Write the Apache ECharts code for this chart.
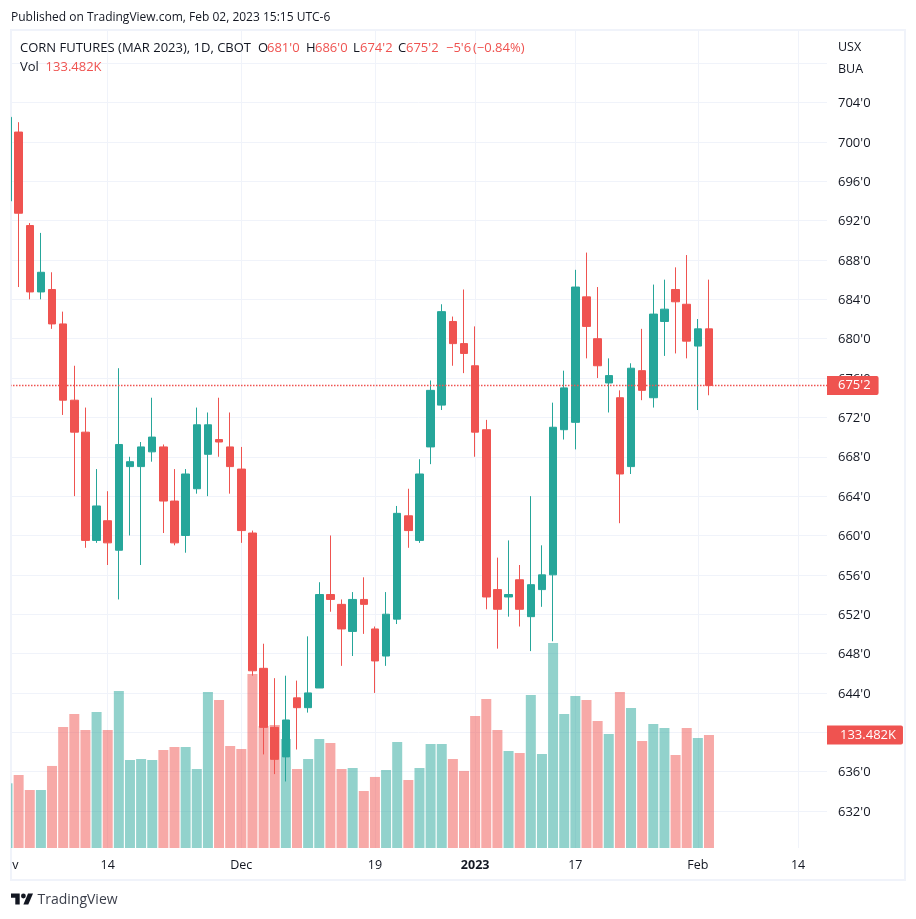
<!DOCTYPE html>
<html><head><meta charset="utf-8">
<style>html,body{margin:0;padding:0;background:#fff}#c{width:916px;height:919px}</style>
<script src="https://cdn.jsdelivr.net/npm/echarts@6/dist/echarts.min.js"></script>
</head><body><div id="c"></div>
<script>
const sessions = ['2022-11-01','2022-11-02','2022-11-03','2022-11-04','2022-11-07','2022-11-08','2022-11-09','2022-11-10','2022-11-11','2022-11-14','2022-11-15','2022-11-16','2022-11-17','2022-11-18','2022-11-21','2022-11-22','2022-11-23','2022-11-25','2022-11-28','2022-11-29','2022-11-30',
'2022-12-01','2022-12-02','2022-12-05','2022-12-06','2022-12-07','2022-12-08','2022-12-09','2022-12-12','2022-12-13','2022-12-14','2022-12-15','2022-12-16','2022-12-19','2022-12-20','2022-12-21','2022-12-22','2022-12-23','2022-12-27','2022-12-28','2022-12-29','2022-12-30',
'2023-01-03','2023-01-04','2023-01-05','2023-01-06','2023-01-09','2023-01-10','2023-01-11','2023-01-12','2023-01-13','2023-01-17','2023-01-18','2023-01-19','2023-01-20','2023-01-23','2023-01-24','2023-01-25','2023-01-26','2023-01-27','2023-01-30','2023-01-31',
'2023-02-01','2023-02-02','2023-02-03','2023-02-06','2023-02-07','2023-02-08','2023-02-09','2023-02-10','2023-02-13','2023-02-14'];
const opens = [694,701,691.5,684.75,685,681.5,673.75,670.5,659.5,661.5,
658.5,667,667,668.5,669,663.5,660,664.75,668.25,669.75,
669,666.75,660.25,646.5,640.5,637.5,643.5,642.5,644.5,654,
653,650.25,653.5,650.5,647.75,651.5,662,659.5,669,673.25,
681.75,679.5,677.25,670.75,654.5,653.75,655.5,651.75,654.5,656,
670.75,671.5,684.25,680,675.5,674,667,676.75,674,681.75,
685,683.5,679.25,681];
const closes = [702.5,692.75,684.75,686.75,681.5,673.75,670.5,659.5,663,659.25,
669.25,667.5,669,670,663.5,659.25,666.25,671.25,671.25,669.5,
667,660.5,646.25,640.5,637.25,641.25,642.5,644,654,653.5,
650.5,653.5,653,647.25,652,662.25,660.5,666.25,674.75,682.75,
679.5,678.5,670.5,653.75,652.5,654,652.5,655,656,671,
675,685.25,681.25,677.25,676.25,666.25,677,674.75,682.5,683,
683.75,679.75,681,675.25];
const lows = [694,685.25,684,684,681,672.25,664,658.75,659.25,657,
653.5,660,657,667.5,660.25,659,658.25,664.25,664,668,
664.25,659.25,645.75,637.75,635.75,635,638.25,642,644.5,652.25,
646.75,647.75,650,644,646.75,651,658.75,659.25,667.25,672.75,
677.25,676.5,668,652.5,648.5,651.75,650.75,648.25,652.75,649.25,
669.75,668.75,678,676,672.5,661.25,666.25,673.75,673,678.25,
678.5,678,672.75,674.25];
const highs = [702.5,702,691.75,690.75,686.75,682.75,677.25,673,666.75,664.5,
677,668,669.5,674,669.25,666.75,666.75,673,672.5,674,
672.5,669,660.5,649,645.5,645.75,645.25,649.75,655.25,660,
653.5,654.25,655.75,650.75,654.25,663,664.75,667.75,675.75,683.5,
682.25,685,681.25,671.75,657.75,659.5,657,664,659,673.5,
676.75,687,688.75,685.25,678,674.75,677.5,681,685.5,686,
687.25,688.5,682,686];
const volumes = [76.4,86.2,68.5,68.5,96.9,142.9,158.3,139.4,160.6,139.4,
185.4,103.9,105.1,103.9,115.8,119.3,119.3,93.3,184.3,174.8,
120.5,116.9,205.5,144.1,145.3,128.8,93.3,105.1,128.8,124.0,
93.3,94.5,67.3,83.9,92.1,125.2,80.3,94.5,122.8,122.8,
105.1,91,155.9,176,139.4,114.6,112.2,180.7,111,242.1,
158.3,179.5,174.8,150,134.7,184.3,165.4,126.4,146.5,141.7,
109.9,141.7,129.9,133.482];
const timeTickDates = ['2022-11-14','2022-12-01','2022-12-19','2023-01-03','2023-01-17','2023-02-01','2023-02-14'];
const timeTickLabels = ['14','Dec','19','2023','17','Feb','14'];
const priceTicks = [632,636,640,644,648,652,656,660,664,668,672,676,680,684,688,692,696,700,704];
const priceGridOnly = [708];
const lastPrice = 675.25, lastPriceLabel = "675'2", lastVolume = 133.482, lastVolumeLabel = '133.482K';
const legendParts = [["CORN FUTURES (MAR 2023), 1D, CBOT",20,0],["O",258,0],["681'0",267,1],["H",306,0],["686'0",315,1],["L",353,0],["674'2",360,1],["C",398,0],["675'2",406,1],["−5'6",446,1],["(−0.84%)",473,1]];

const UP='#26a69a', DOWN='#ef5350', GRID='#f0f3fa', INK='#131722';
const FONT='"Open Sans", sans-serif';
const X_MIN=0.225, X_MAX=73.6;
const xs = opens.map((_,i)=>i);
const tickIdx = timeTickDates.map(d=>sessions.indexOf(d));
const labelAt = {}; tickIdx.forEach((x,i)=>labelAt[x]=timeTickLabels[i]);
const clippedNov = 0.7; labelAt[clippedNov]='v';

const option={
  animation:false,
  backgroundColor:'#fff',
  grid:[
    {left:10,top:31,width:817,height:817},
    {left:10,top:594,width:817,height:254}
  ],
  xAxis:[
    {type:'value',gridIndex:0,min:X_MIN,max:X_MAX,
     axisLine:{show:false},
     axisTick:{show:false,customValues:tickIdx},
     splitLine:{show:true,lineStyle:{color:GRID,width:1}},
     axisLabel:{show:true,customValues:[clippedNov].concat(tickIdx),margin:11,fontFamily:FONT,fontSize:12.5,color:INK,
       formatter:v=>labelAt[v]==='2023'?'{b|2023}':labelAt[v],
       rich:{b:{fontWeight:'bold',fontFamily:FONT,fontSize:12.5,color:INK}}}},
    {type:'value',gridIndex:1,min:X_MIN,max:X_MAX,show:false,splitLine:{show:false}}
  ],
  yAxis:[
    {type:'value',gridIndex:0,position:'right',min:628.24,max:711.27,
     axisLine:{show:false},
     axisTick:{show:false,customValues:priceTicks.concat(priceGridOnly)},
     splitLine:{show:true,lineStyle:{color:GRID,width:1}},
     axisLabel:{customValues:priceTicks,margin:11,fontFamily:FONT,fontSize:13,color:INK,
       formatter:v=>'{p|'+Math.floor(v)+"'0}",
       rich:{p:{fontFamily:FONT,fontSize:13,color:INK,padding:[2,0,0,0]}}}},
    {type:'value',gridIndex:1,min:0,max:300,show:false,splitLine:{show:false}}
  ],
  series:[
    {type:'bar',name:'Vol',xAxisIndex:1,yAxisIndex:1,barWidth:10,z:1,clip:true,
     data:xs.map(i=>({value:[i,volumes[i]],itemStyle:{color:closes[i]>=opens[i]?'rgba(38,166,154,.5)':'rgba(239,83,80,.5)'}})),
     encode:{x:0,y:1},
     markLine:{silent:true,symbol:'none',z:5,
       lineStyle:{color:'rgba(0,0,0,0)',width:1},
       label:{show:true,position:'end',distance:0,formatter:lastVolumeLabel,color:'#fff',backgroundColor:DOWN,
              fontFamily:FONT,fontSize:13,padding:[3,7,3,13],borderRadius:[0,2,2,0]},
       data:[{yAxis:lastVolume}]}},
    {type:'candlestick',name:'CORN',xAxisIndex:0,yAxisIndex:0,barWidth:8,z:3,
     data:xs.map(i=>[i,opens[i],closes[i],lows[i],highs[i]]),
     encode:{x:0,y:[1,2,3,4]},
     itemStyle:{color:UP,color0:DOWN,borderColor:UP,borderColor0:DOWN,borderWidth:1},
     markLine:{silent:true,symbol:'none',z:5,
       lineStyle:{color:DOWN,type:[1.5,1.5],width:1.4,opacity:1},
       label:{show:true,position:'end',distance:0,formatter:lastPriceLabel,color:'#fff',backgroundColor:DOWN,
              fontFamily:FONT,fontSize:13,padding:[3,8,3,11],borderRadius:[0,2,2,0]},
       data:[{yAxis:lastPrice}]}}
  ],
  graphic:[
    {type:'rect',z:0,silent:true,shape:{x:11,y:30,width:894,height:850},style:{fill:'none',stroke:GRID,lineWidth:2}},
    {type:'rect',z:10,silent:true,shape:{x:0,y:31,width:10,height:818},style:{fill:'#fff'}},
    {type:'rect',z:10,silent:true,shape:{x:10,y:31,width:1,height:818},style:{fill:GRID}},
    {type:'text',x:11,y:18,z:20,silent:true,style:{text:'Published on TradingView.com, Feb 02, 2023 15:15 UTC-6',fill:INK,font:'12px '+FONT,textVerticalAlign:'middle'}},
    ...legendParts.map(p=>({type:'text',x:p[1],y:48,z:20,silent:true,style:{text:p[0],fill:p[2]?DOWN:INK,font:'13px '+FONT,textVerticalAlign:'middle'}})),
    {type:'text',x:20,y:67,z:20,silent:true,style:{
      text:'{k|Vol  }{r|133.482K}',textVerticalAlign:'middle',
      rich:{k:{fill:INK,font:'13px '+FONT},r:{fill:DOWN,font:'13px '+FONT}}}},
    {type:'text',x:838,y:47,z:20,silent:true,style:{text:'USX',fill:INK,font:'12.5px '+FONT,textVerticalAlign:'middle'}},
    {type:'text',x:838,y:69,z:20,silent:true,style:{text:'BUA',fill:INK,font:'12.5px '+FONT,textVerticalAlign:'middle'}},
    {type:'polygon',z:20,silent:true,shape:{points:[[11,893.5],[19.7,893.5],[19.7,904.6],[15.3,904.6],[15.3,897.8],[11,897.8]]},style:{fill:INK}},
    {type:'polygon',z:20,silent:true,shape:{points:[[28,893.5],[33,893.5],[28.3,904.6],[23.4,904.6]]},style:{fill:INK}},
    {type:'circle',z:20,silent:true,shape:{cx:23.4,cy:896,r:2.4},style:{fill:INK}},
    {type:'text',x:37.5,y:900,z:20,silent:true,style:{text:'TradingView',fill:'#3a3e4a',font:'14px '+FONT,textVerticalAlign:'middle'}}
  ]
};
echarts.init(document.getElementById('c'),null,{renderer:'canvas'}).setOption(option);
</script></body></html>
